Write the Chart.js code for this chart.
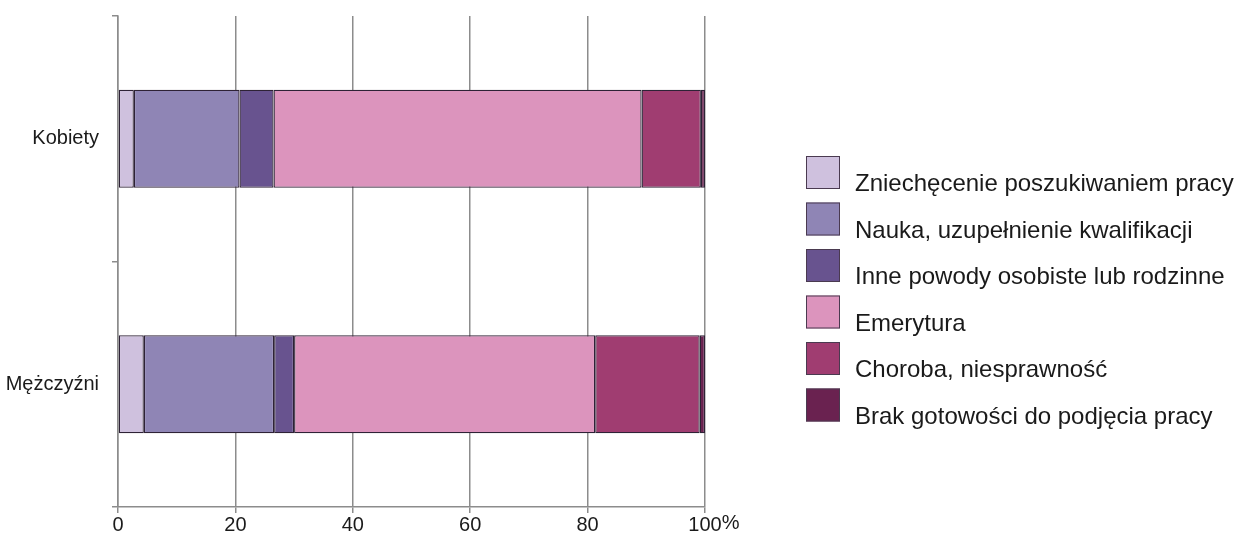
<!DOCTYPE html>
<html lang="pl">
<head>
<meta charset="utf-8">
<title>Powody bierności zawodowej</title>
<script src="https://cdn.jsdelivr.net/npm/chart.js@4.4.1/dist/chart.umd.min.js"></script>
<style>
  html, body { margin: 0; padding: 0; background: #fff; }
  canvas { display: block; }
</style>
</head>
<body>
<canvas id="chart" width="1242" height="536"></canvas>
<script>
// categories and values (percent)
const categories = ["Kobiety", "Mężczyźni"];
const seriesNames = [
  "Zniechęcenie poszukiwaniem pracy",
  "Nauka, uzupełnienie kwalifikacji",
  "Inne powody osobiste lub rodzinne",
  "Emerytura",
  "Choroba, niesprawność",
  "Brak gotowości do podjęcia pracy",
];
const zniechecenie = [2.7, 4.4];
const nauka = [18.0, 22.2];
const inne = [5.8, 3.4];
const emerytura = [62.7, 51.3];
const choroba = [10.1, 17.8];
const brak = [0.7, 0.9];
const xTicks = [0, 20, 40, 60, 80, 100];

const colors = ["#cfc1de", "#8f85b5", "#68538f", "#dc94bd", "#a03d71", "#6a2250"];
const values = [zniechecenie, nauka, inne, emerytura, choroba, brak];

const FONT = "'Liberation Sans', Arial, sans-serif";
const GRID = "#8c8c8c";

// legend drawn to the right, boxes sit a little above their labels
const sideLegend = {
  id: "sideLegend",
  afterDraw(chart) {
    const ctx = chart.ctx;
    ctx.save();
    chart.data.datasets.forEach((ds, i) => {
      const top = 156 + i * 46.5;
      ctx.fillStyle = ds.backgroundColor;
      ctx.fillRect(806, top, 34, 33);
      ctx.strokeStyle = "#4a3a50";
      ctx.lineWidth = 1;
      ctx.strokeRect(806.5, top + 0.5, 33, 32);
      ctx.fillStyle = "#1a1a1a";
      ctx.font = "24px " + FONT;
      ctx.textBaseline = "alphabetic";
      ctx.textAlign = "left";
      ctx.fillText(ds.label, 855, top + 35);
    });

    // "%" after the last tick label
    const x = chart.scales.x;
    ctx.font = "20px " + FONT;
    const w = ctx.measureText("100").width;
    ctx.fillStyle = "#1a1a1a";
    ctx.textBaseline = "top";
    ctx.fillText("%", x.getPixelForValue(100) + w / 2, 513);
    ctx.restore();
  },
};

new Chart(document.getElementById("chart"), {
  type: "bar",
  data: {
    labels: categories,
    datasets: seriesNames.map((name, i) => ({
      label: name,
      data: values[i],
      backgroundColor: colors[i],
      borderColor: "#2e2236",
      borderWidth: 1.3,
      borderSkipped: false,
      barPercentage: 0.4,
      categoryPercentage: 1,
    })),
  },
  options: {
    indexAxis: "y",
    responsive: false,
    animation: false,
    devicePixelRatio: 1,
    layout: { padding: { top: 16, right: 537, bottom: 0, left: 0 } },
    plugins: {
      legend: { display: false },
      tooltip: { enabled: false },
    },
    scales: {
      x: {
        stacked: true,
        min: 0,
        max: 100,
        afterFit: (scale) => { scale.height = 29; },
        afterBuildTicks: (scale) => { scale.ticks = xTicks.map((v) => ({ value: v })); },
        grid: { color: GRID, lineWidth: 1.5, tickLength: 6, drawTicks: true },
        border: { display: true, color: GRID, width: 1.5 },
        ticks: {
          padding: 0,
          color: "#1a1a1a",
          font: { family: FONT, size: 20 },
          maxRotation: 0,
          callback: (v) => String(v),
        },
      },
      y: {
        stacked: true,
        afterFit: (scale) => {
          scale.width = 118;
          scale.paddingTop = 0;
          scale.paddingBottom = 0;
        },
        grid: { display: true, drawOnChartArea: false, color: GRID, lineWidth: 1.5, tickLength: 6, offset: true },
        border: { display: true, color: GRID, width: 1.5 },
        ticks: {
          padding: 13,
          color: "#1a1a1a",
          font: { family: FONT, size: 20 },
        },
      },
    },
  },
  plugins: [sideLegend],
});
</script>
</body>
</html>
